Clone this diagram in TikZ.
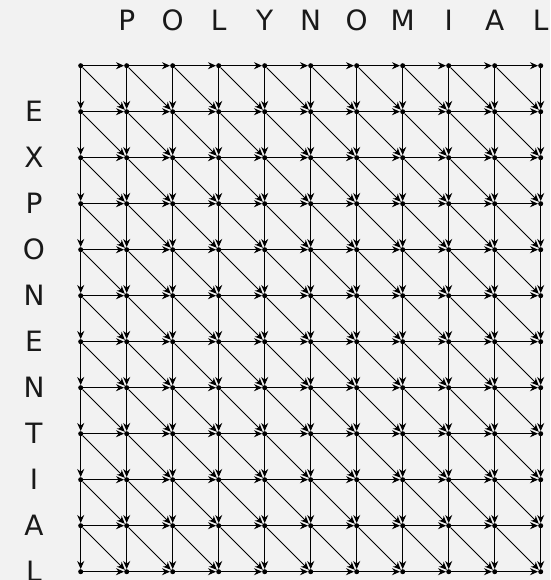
\documentclass[tikz,border=0pt]{standalone}
\usepackage{fontspec}
\setmainfont{DejaVu Sans}
\usetikzlibrary{arrows.meta}
\begin{document}
\begin{tikzpicture}[x=1pt,y=-1pt,
  dot/.style={circle,fill=black,inner sep=0pt,minimum size=5pt},
  edge/.style={-{Stealth[length=8pt,width=7pt]},line width=1pt},
  lab/.style={font=\fontsize{28}{30}\selectfont,text=black!90,inner sep=0pt}]
\fill[black!5] (0,0) rectangle (550,580);
\useasboundingbox (0,0) rectangle (550,580);
\foreach \cc in {0,...,10}
  \foreach \rr in {0,...,11}
    \node[dot] (n-\cc-\rr) at ({80.7+46*\cc},{65.7+46*\rr}) {};
\foreach \cc in {0,...,10}{
  \foreach \rr in {0,...,11}{
    \pgfmathtruncatemacro\nc{\cc+1}
    \pgfmathtruncatemacro\nr{\rr+1}
    \ifnum\cc<10 \draw[edge] (n-\cc-\rr) -- (n-\nc-\rr);\fi
    \ifnum\rr<11 \draw[edge] (n-\cc-\rr) -- (n-\cc-\nr);\fi
    \ifnum\cc<10 \ifnum\rr<11 \draw[edge] (n-\cc-\rr) -- (n-\nc-\nr);\fi\fi
  }
}
\foreach \c [count=\k] in {P,O,L,Y,N,O,M,I,A,L}
  \node[lab] (t\k) at ({80.7+46*\k},20) {\c};
\foreach \c [count=\k] in {E,X,P,O,N,E,N,T,I,A,L}
  \node[lab] (s\k) at (34,{65.7+46*\k}) {\c};
\end{tikzpicture}
\end{document}
